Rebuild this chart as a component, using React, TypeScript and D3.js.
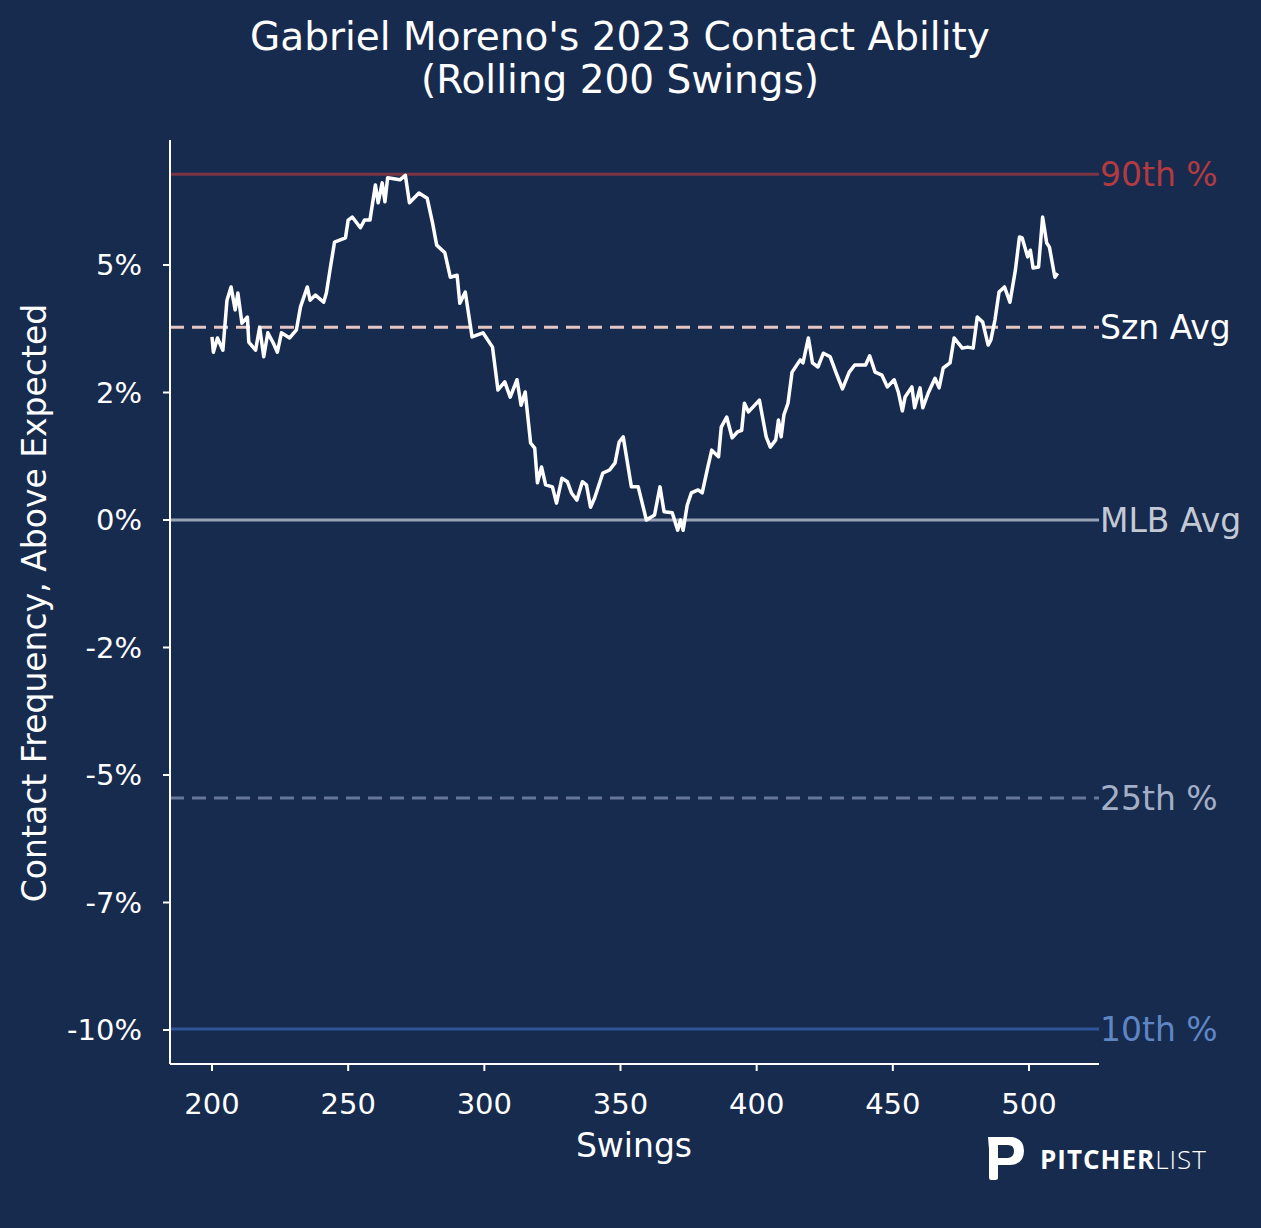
import React from 'react';
import * as d3 from 'd3';

const swings = [200,200.5,202,204,205.5,207,208.5,209.5,211,213,213.5,216,217.5,219,220.5,222.5,224,225.5,228.5,231,232.5,235,236,238,241,242,243.5,245,249,250,251.5,254.5,256,258,260,261,262.5,263.5,264.5,269,271,272.5,276,279,281,282.5,285.5,287.5,290,291,293,295.5,299.5,303,305,307.5,309.5,312,313.5,315,317,318.5,319.5,321,322.5,325,326.5,328.5,330.5,332,334,336,337.5,339,340.5,343.5,346,348,349.5,351,354,356.5,359.5,362.5,364.5,366,369,371,372,373,374.5,376,378.5,380,382,383.5,386,387,389,391,393,394.5,395.5,397,401,403.5,405,407,408,409,410,411.5,413,416,417,419,420.5,422.5,424.5,427,429.5,431.5,434,436,440,441.5,443.5,446,448,450.5,452,453.5,454.5,457,458,460,461,463,465.5,467,468.5,471,472.5,475.5,477.5,479.5,481,483,485,486,487.5,489,491,493,495,496.5,497.5,499.5,500.5,501.5,503.5,505,506.5,507.5,509.5,510.5];
const contact = [3.59,3.29,3.57,3.33,4.31,4.57,4.12,4.45,3.86,3.98,3.49,3.33,3.78,3.2,3.67,3.47,3.29,3.67,3.57,3.73,4.18,4.57,4.31,4.41,4.27,4.45,4.96,5.45,5.53,5.88,5.94,5.73,5.88,5.88,6.57,6.22,6.61,6.24,6.71,6.67,6.76,6.22,6.41,6.31,5.82,5.39,5.24,4.76,4.8,4.25,4.47,3.59,3.67,3.39,2.55,2.71,2.41,2.75,2.25,2.51,1.51,1.41,0.73,1.04,0.69,0.65,0.33,0.82,0.75,0.53,0.39,0.75,0.69,0.25,0.43,0.92,0.98,1.12,1.53,1.63,0.65,0.65,0,0.1,0.65,0.16,0.14,-0.2,0,-0.2,0.29,0.53,0.59,0.53,1.02,1.37,1.24,1.82,2.02,1.61,1.73,1.76,2.29,2.12,2.35,1.63,1.43,1.57,1.96,1.63,2.06,2.29,2.9,3.14,3.08,3.57,3.08,3.0,3.27,3.2,2.84,2.57,2.9,3.04,3.04,3.22,2.9,2.84,2.61,2.75,2.51,2.14,2.41,2.61,2.2,2.59,2.2,2.49,2.78,2.59,2.98,3.08,3.57,3.37,3.39,3.37,3.98,3.88,3.43,3.53,3.92,4.47,4.57,4.27,4.9,5.55,5.53,5.16,5.29,4.94,4.96,5.94,5.43,5.35,4.76,4.84];

const xTicks = [200, 250, 300, 350, 400, 450, 500];
const yTicks = [5, 2.5, 0, -2.5, -5, -7.5, -10];
const yTickLabels = ['5%', '2%', '0%', '-2%', '-5%', '-7%', '-10%'];

const refLines = [
  { value: 6.78, label: '90th %', line: '#7a3444', text: '#b23a40', dash: '' },
  { value: 3.78, label: 'Szn Avg', line: '#e6c6c2', text: '#ffffff', dash: '14,8' },
  { value: 0, label: 'MLB Avg', line: '#97a2b4', text: '#c3c9d4', dash: '' },
  { value: -5.45, label: '25th %', line: '#66779a', text: '#a3afc6', dash: '14,8' },
  { value: -9.98, label: '10th %', line: '#2d5598', text: '#5f86c4', dash: '' },
];

const W = 1261, H = 1228;
const BG = '#172b4f';
const font = '"DejaVu Sans", sans-serif';

export default function App() {
  const x = d3.scaleLinear().domain([200, 500]).range([212, 1029]);
  const y = d3.scaleLinear().domain([0, 5]).range([520, 265]);
  const left = 170, right = 1099, bottom = 1064, top = 140;

  const line = d3.line<number>()
    .x((d, i) => x(swings[i]))
    .y(d => y(d));

  return (
    <svg width={W} height={H} style={{ position: 'absolute', left: 0, top: 0, background: BG, fontFamily: font }}>
      <rect width={W} height={H} fill={BG} />
      <text x={620} y={50} textAnchor="middle" fill="#fff" fontSize={39}>Gabriel Moreno's 2023 Contact Ability</text>
      <text x={620} y={93} textAnchor="middle" fill="#fff" fontSize={39}>(Rolling 200 Swings)</text>

      {refLines.map(r => (
        <g key={r.label}>
          <line x1={left} x2={right} y1={y(r.value)} y2={y(r.value)} stroke={r.line} strokeWidth={3} strokeDasharray={r.dash || undefined} />
          <text x={right + 1} y={y(r.value)} dy="0.35em" fill={r.text} fontSize={33}>{r.label}</text>
        </g>
      ))}

      <path d={line(contact) || ''} fill="none" stroke="#fff" strokeWidth={3.5} strokeLinejoin="round" />

      <line x1={left} x2={left} y1={top} y2={bottom} stroke="#fff" strokeWidth={2} />
      <line x1={left} x2={right} y1={bottom} y2={bottom} stroke="#fff" strokeWidth={2} />

      {yTicks.map((t, i) => (
        <g key={t}>
          <line x1={left - 7} x2={left} y1={y(t)} y2={y(t)} stroke="#fff" strokeWidth={2} />
          <text x={left - 28} y={y(t)} dy="0.35em" textAnchor="end" fill="#fff" fontSize={29}>{yTickLabels[i]}</text>
        </g>
      ))}
      {xTicks.map(t => (
        <g key={t}>
          <line x1={x(t)} x2={x(t)} y1={bottom} y2={bottom + 7} stroke="#fff" strokeWidth={2} />
          <text x={x(t)} y={bottom + 50} textAnchor="middle" fill="#fff" fontSize={29}>{t}</text>
        </g>
      ))}

      <text x={634} y={1157} textAnchor="middle" fill="#fff" fontSize={33}>Swings</text>
      <text transform={`translate(46,603) rotate(-90)`} textAnchor="middle" fill="#fff" fontSize={33}>Contact Frequency, Above Expected</text>

      <g transform="translate(988,1137)">
        <path d="M0,0 L24,0 Q36,2 36,14 Q36,27 22,28 L10,28 L10,41 Q10,43 6,43 L3,43 Q1,43 1,40 L1,12 Z M10,8 L10,21 L20,21 Q26,20 26,14 Q26,8 20,8 Z" fill="#fff" fillRule="evenodd" />
      </g>
      <text x={1040} y={1169} fill="#fff" fontSize={26} fontWeight="bold" fontFamily='"Open Sans", sans-serif' letterSpacing={1}>PITCHER<tspan fontWeight={300}>LIST</tspan></text>
    </svg>
  );
}
